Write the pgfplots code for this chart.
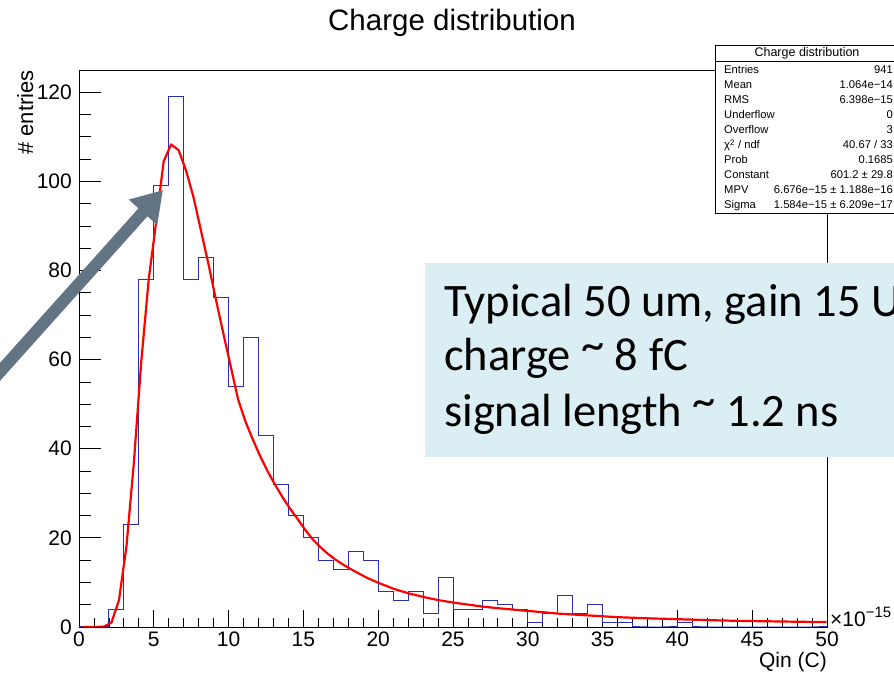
\documentclass[border=0pt]{standalone}
\usepackage{fontspec}
\setmainfont{Liberation Sans}
\newfontfamily\calibri{Carlito}
\usepackage{pgfplots}
\pgfplotsset{compat=1.18}
\usetikzlibrary{arrows.meta}
\definecolor{histblue}{RGB}{45,45,180}
\definecolor{arrowgray}{RGB}{99,116,133}
\definecolor{boxblue}{RGB}{218,238,243}
\newcommand{\hitilde}{\raisebox{0.22em}{\textasciitilde}}
\begin{document}
\begin{tikzpicture}[x=1pt,y=1pt]
\useasboundingbox (0,0) rectangle (894,677);
\clip (0,0) rectangle (894,677);
\begin{axis}[
  at={(79pt,50pt)}, anchor=south west,
  scale only axis, width=748pt, height=557pt,
  xmin=0, xmax=50, ymin=0, ymax=125,
  xtick={0,5,...,50}, ytick={0,20,...,120},
  minor x tick num=4, minor y tick num=3,
  tick pos=left, tick align=inside,
  scaled ticks=false,
  /pgf/number format/assume math mode=true,
  ticklabel style={font=\fontsize{21}{25}\selectfont, inner sep=0pt},
  xticklabel style={anchor=north, yshift=-5pt},
  yticklabel style={anchor=east, xshift=-7pt},
  axis line style={black, line width=0.8pt},
  tick style={black, line width=0.8pt},
  xtick style={/pgfplots/major tick length=17pt, /pgfplots/minor tick length=8.5pt},
  ytick style={/pgfplots/major tick length=22pt, /pgfplots/minor tick length=12pt},
  clip=true,
]
\addplot[histblue, line width=1pt, const plot] coordinates {
(0,0) (1,0) (2,4) (3,23) (4,78) (5,99) (6,119) (7,78) (8,83) (9,74)
(10,54) (11,65) (12,43) (13,32) (14,25) (15,20) (16,15) (17,13) (18,17) (19,15)
(20,8) (21,6) (22,8) (23,3) (24,11) (25,4) (26,4) (27,6) (28,5) (29,4)
(30,1) (31,3) (32,7) (33,3) (34,5) (35,1) (36,1) (37,0) (38,0) (39,0)
(40,1) (41,0) (42,0) (43,0) (44,0) (45,0) (46,0) (47,0) (48,0) (49,0) (50,0)
};
\addplot[red, line width=2.2pt, line join=round] coordinates {
(0.18,0) (0.68,0) (1.18,0) (1.67,0.1) (2.17,1.0) (2.67,6) (3.17,18) (3.67,37)
(4.16,59.5) (4.66,78) (5.16,91) (5.66,104.5) (6.16,108.3) (6.66,107) (7.15,102.5)
(7.65,96.5) (8.15,89) (8.65,81.5) (9.15,73.5) (9.64,66) (10.14,58.5) (10.64,51)
(11.14,46) (11.63,42) (12.13,38.2) (12.63,34.8) (13.13,31.8) (13.63,29) (14.12,26.5)
(14.62,24.2) (15.12,21.8) (15.62,19.7) (16.11,18) (16.61,16.5) (17.11,15.2)
(17.61,14.1) (18.11,13.1) (18.60,12.2) (19.10,11.3) (19.60,10.5) (20.10,9.8)
(21.09,8.5) (22.09,7.5) (23.08,6.7) (24.08,6.0) (25.08,5.45) (26.07,5.0)
(27.07,4.55) (28.06,4.2) (29.06,3.9) (30.06,3.6) (32.05,3.0) (34.04,2.6)
(36.03,2.2) (38.02,1.95) (40.01,1.75) (42,1.55) (44,1.38) (46,1.28) (48,1.18) (49.98,1.1)
};
\end{axis}
% title and axis labels
\node[anchor=base, inner sep=0, font=\fontsize{29.5}{34}\selectfont] at (452,646) {Charge distribution};
\node[anchor=base east, inner sep=0, font=\fontsize{21}{25}\selectfont] at (827,9) {Qin (C)};
\node[anchor=base east, rotate=90, inner sep=0, font=\fontsize{22}{26}\selectfont] at (33,607) {\# entries};
\node[anchor=base west, inner sep=0, font=\fontsize{21}{25}\selectfont] at (830,50) {×10\raisebox{9pt}{\fontsize{15}{18}\selectfont −15}};
% stats box
\draw[fill=white, line width=0.8pt] (715,632) rectangle (899,464);
\draw[line width=0.8pt] (715,616) -- (899,616);
\node[anchor=base, inner sep=0, font=\fontsize{12.5}{15}\selectfont] at (807,620) {Charge distribution};
\begin{scope}[every node/.style={inner sep=0, font=\fontsize{11.2}{13}\selectfont}]
\node[anchor=base west] at (724,603) {Entries};   \node[anchor=base east] at (893,603) {941};
\node[anchor=base west] at (724,588) {Mean};      \node[anchor=base east] at (893,588) {1.064e−14};
\node[anchor=base west] at (724,573) {RMS};       \node[anchor=base east] at (893,573) {6.398e−15};
\node[anchor=base west] at (724,558) {Underflow}; \node[anchor=base east] at (893,558) {0};
\node[anchor=base west] at (724,543) {Overflow};  \node[anchor=base east] at (893,543) {3};
\node[anchor=base west] at (724,528) {χ\textsuperscript{2} / ndf}; \node[anchor=base east] at (893,528) {40.67 / 33};
\node[anchor=base west] at (724,513) {Prob};      \node[anchor=base east] at (893,513) {0.1685};
\node[anchor=base west] at (724,498) {Constant};  \node[anchor=base east] at (893,498) {601.2 ± 29.8};
\node[anchor=base west] at (724,483) {MPV};       \node[anchor=base east] at (893,483) {6.676e−15 ± 1.188e−16};
\node[anchor=base west] at (724,468) {Sigma};     \node[anchor=base east] at (893,468) {1.584e−15 ± 6.209e−17};
\end{scope}
% annotation box
\fill[boxblue] (425,220) rectangle (905,414);
\begin{scope}[every node/.style={inner sep=0, anchor=base west, font=\calibri\fontsize{46.5}{56}\selectfont}]
\node at (444,360) {Typical 50 um, gain 15 U};
\node at (444,306) {charge \hitilde{} 8 fC};
\node at (444,250) {signal length \hitilde{} 1.2 ns};
\end{scope}
% arrow
\draw[arrowgray, line width=12pt, -{Triangle[length=30pt,width=36pt]}] (-10,294) -- (163,487);
\end{tikzpicture}
\end{document}
